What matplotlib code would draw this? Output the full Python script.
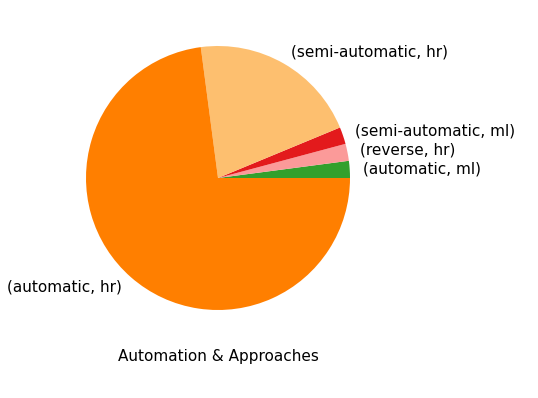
import matplotlib
matplotlib.use("Agg")
import matplotlib.pyplot as plt

labels = ["(automatic, ml)", "(reverse, hr)", "(semi-automatic, ml)", "(semi-automatic, hr)", "(automatic, hr)"]
counts = [1, 1, 1, 10, 35]
colors = ["#33a02c", "#fb9a99", "#e31a1c", "#fdbf6f", "#ff7f00"]
title = "Automation & Approaches"

fig = plt.figure(figsize=(5.38, 3.98), dpi=100)
ax = fig.add_axes([53/538, 55/398, 330/538, 330/398])
ax.pie(counts, labels=labels, colors=colors, startangle=0, counterclock=True,
       textprops={"fontsize": 11})
ax.set_xlim(-1.25, 1.25)
ax.set_ylim(-1.25, 1.25)
ax.set_aspect("equal")
ax.set_xlabel(title, fontsize=11)
fig.savefig("out.png", dpi=100)
